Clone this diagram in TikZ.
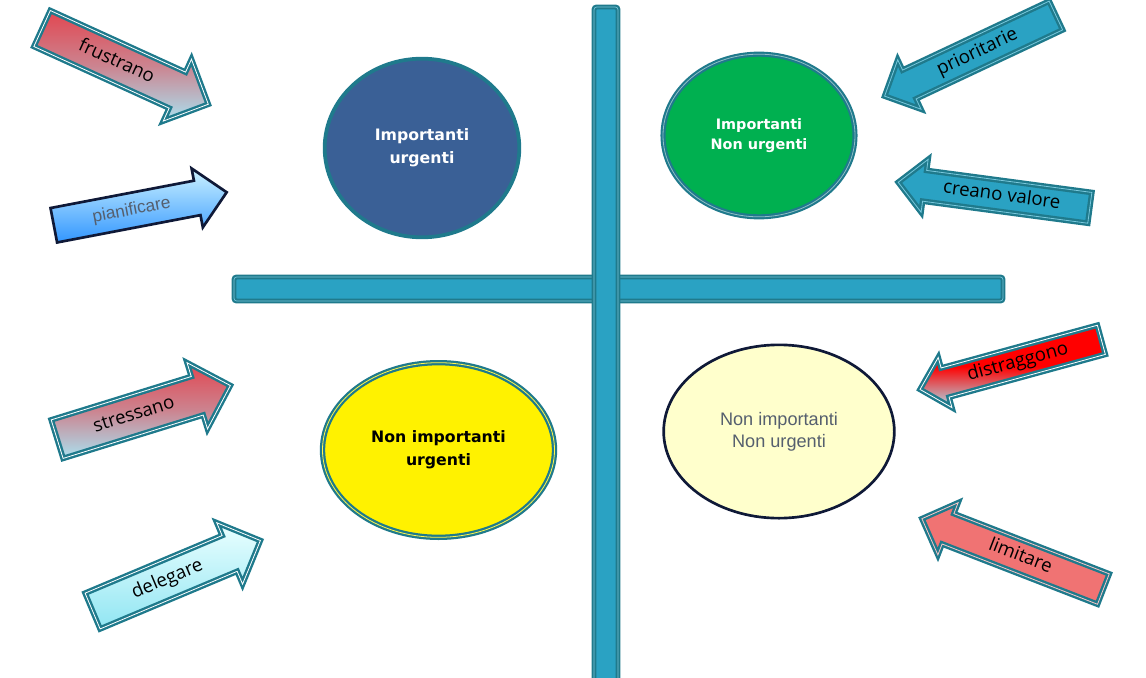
\documentclass[tikz,border=0pt]{standalone}
\usepackage{fontspec}
\setmainfont{Open Sans}
\newfontfamily\tahoma{DejaVu Sans}
\newfontfamily\arial{Liberation Sans}
\usetikzlibrary{shapes.geometric, shapes.arrows}

\definecolor{tealline}{RGB}{31,122,140}
\definecolor{barfill}{RGB}{42,162,195}
\definecolor{barlight}{RGB}{120,200,220}
\definecolor{navy}{RGB}{15,25,55}
\definecolor{steel}{RGB}{58,96,150}
\definecolor{leaf}{RGB}{0,176,80}
\definecolor{cream}{RGB}{255,255,204}
\definecolor{slate}{RGB}{85,95,110}
\definecolor{rosy}{RGB}{226,70,80}
\definecolor{skyfade}{RGB}{170,225,240}
\definecolor{salmon}{RGB}{240,115,115}

\begin{document}
\begin{tikzpicture}[
    x=0.75pt, y=-0.75pt,
    bar/.style={
        fill=barfill,
        draw=tealline,
        line width=1.6pt,
        double=barlight,
        double distance=0.5pt,
        rounded corners=2pt
    },
    blob/.style={
        ellipse,
        align=center,
        inner sep=0pt
    },
    arrowbox/.style={
        single arrow,
        anchor=tail,
        draw=tealline,
        line width=1.8pt,
        double=white,
        double distance=0.6pt,
        single arrow tip angle=90,
        inner xsep=4pt,
        inner ysep=2.5pt,
        text height=10pt,
        text depth=3pt,
        font=\fontsize{14}{16}\selectfont
    },
    backwards/.style={shape border rotate=180},
    redfade/.style={top color=rosy, bottom color=skyfade, middle color=rosy!60!skyfade},
    tealfill/.style={fill=barfill, double=barlight}
]
\useasboundingbox (0,0) rectangle (1146,678);

% the two axes
\draw[bar] (234,277) rectangle (1003,301);
\draw[bar] (594,7) rectangle (618,690);

% quadrants
\node[blob, fill=steel, draw=tealline, line width=2.8pt,
      minimum width=146pt, minimum height=134pt, text=white,
      font=\tahoma\bfseries\fontsize{11.8}{17}\selectfont]
      (impurg) at (422,148) {Importanti\\urgenti};

\node[blob, fill=leaf, draw=tealline, line width=1.6pt,
      double=tealline!50!white, double distance=0.6pt,
      minimum width=144pt, minimum height=122pt, text=white,
      font=\tahoma\bfseries\fontsize{10.8}{15}\selectfont]
      (impnonurg) at (759,135.5) {Importanti\\Non urgenti};

\node[blob, fill=yellow, draw=tealline, line width=1.7pt,
      double=yellow!70!white, double distance=0.6pt,
      minimum width=174pt, minimum height=131pt, text=black,
      font=\tahoma\bfseries\fontsize{11.8}{17}\selectfont]
      (nonimpurg) at (438.5,450) {Non importanti\\urgenti};

\node[blob, fill=cream, draw=navy, line width=2pt,
      minimum width=173pt, minimum height=130pt, text=slate,
      font=\arial\fontsize{13.6}{16.5}\selectfont]
      (nonimpnonurg) at (779,431.5) {Non importanti\\Non urgenti};

% arrows on the left
\node[arrowbox, redfade, minimum height=137pt, minimum width=51pt,
      rotate=-24.5] (frustrano) at (41,28) {frustrano};

\node[arrowbox, draw=navy, line width=2pt, double=none,
      top color=blue!25!cyan!20, bottom color={rgb,255:red,50;green,150;blue,255},
      text=slate, font=\arial\fontsize{13}{15}\selectfont,
      minimum height=132pt, minimum width=45pt,
      rotate=10.8] (pianificare) at (52.5,225.5) {pianificare};

\node[arrowbox, redfade, minimum height=136pt, minimum width=52pt,
      rotate=17.2] (stressano) at (56,439.5) {stressano};

\node[arrowbox, top color=cyan!8, bottom color=skyfade!85!cyan,
      minimum height=136.5pt, minimum width=50pt,
      rotate=22.8] (delegare) at (91.5,611.5) {delegare};

% arrows on the right
\node[arrowbox, backwards, tealfill, minimum height=142pt, minimum width=41pt,
      rotate=25.2] (prioritarie) at (1057,15) {prioritarie};

\node[arrowbox, backwards, tealfill, minimum height=145pt, minimum width=40pt,
      rotate=-7.6] (valore) at (1091,208) {creano valore};

\node[arrowbox, backwards, top color=red, bottom color=skyfade,
      middle color=red, minimum height=141pt, minimum width=39pt,
      rotate=15.3] (distraggono) at (1102.5,339.5) {distraggono};

\node[arrowbox, backwards, fill=salmon, double=salmon!40!white,
      minimum height=146pt, minimum width=42pt,
      rotate=-21.2] (limitare) at (1104.5,589.5) {limitare};

\end{tikzpicture}
\end{document}
